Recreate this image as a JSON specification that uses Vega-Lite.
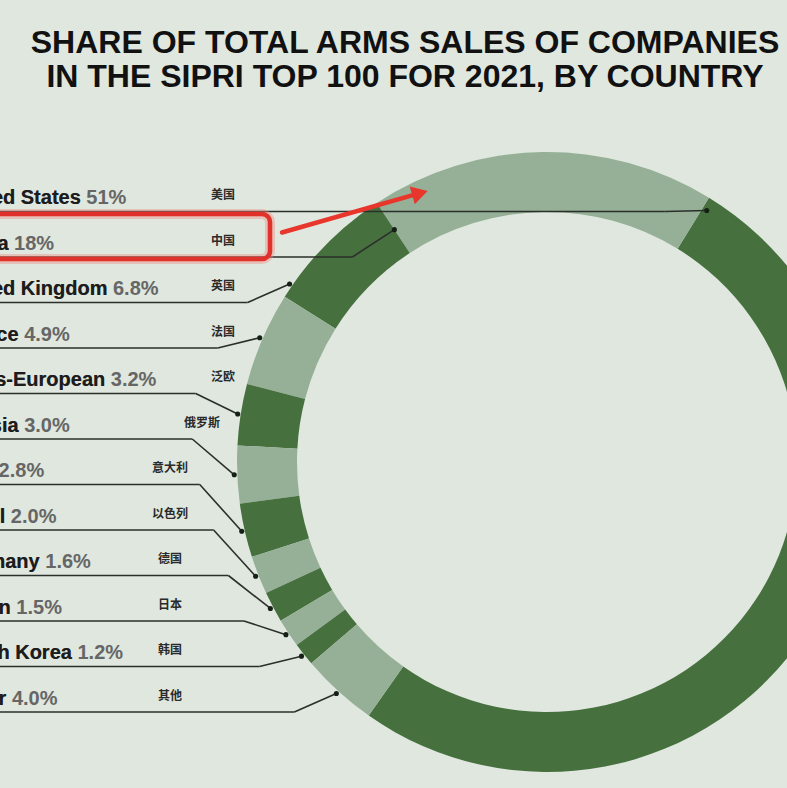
{
  "$schema": "https://vega.github.io/schema/vega-lite/v6.json",
  "width": 480,
  "height": 652,
  "autosize": {"type": "none"},
  "padding": {"top": 136, "left": 307, "right": 0, "bottom": 0},
  "background": "#dfe7de",
  "config": {"view": {"stroke": null}},
  "title": {
    "text": ["SHARE OF TOTAL ARMS SALES OF COMPANIES", "IN THE SIPRI TOP 100 FOR 2021, BY COUNTRY"],
    "font": "Liberation Sans",
    "fontSize": 32,
    "fontWeight": "bold",
    "lineHeight": 34,
    "color": "#111111",
    "anchor": "middle",
    "frame": "group",
    "dx": -142,
    "offset": 42
  },
  "data": {
    "values": [
      {"country": "United States", "zh": "美国", "share": 51, "rank": 0},
      {"country": "China", "zh": "中国", "share": 18, "rank": 1},
      {"country": "United Kingdom", "zh": "英国", "share": 6.8, "rank": 2},
      {"country": "France", "zh": "法国", "share": 4.9, "rank": 3},
      {"country": "Trans-European", "zh": "泛欧", "share": 3.2, "rank": 4},
      {"country": "Russia", "zh": "俄罗斯", "share": 3.0, "rank": 5},
      {"country": "Italy", "zh": "意大利", "share": 2.8, "rank": 6},
      {"country": "Israel", "zh": "以色列", "share": 2.0, "rank": 7},
      {"country": "Germany", "zh": "德国", "share": 1.6, "rank": 8},
      {"country": "Japan", "zh": "日本", "share": 1.5, "rank": 9},
      {"country": "South Korea", "zh": "韩国", "share": 1.2, "rank": 10},
      {"country": "Other", "zh": "其他", "share": 4.0, "rank": 11}
    ]
  },
  "transform": [
    {"calculate": "datum.rank == 0 ? 0 : 12 - datum.rank", "as": "cw"},
    {"window": [{"op": "sum", "field": "share", "as": "cum"}], "sort": [{"field": "cw", "order": "ascending"}]},
    {"calculate": "31.5 + 3.6 * (datum.cum - datum.share)", "as": "a0"},
    {"calculate": "datum.rank % 2 == 0 ? 'dark' : 'light'", "as": "tone"},
    {"calculate": "datum.rank == 0 ? 0.005 : (datum.rank == 1 ? 0 : (datum.rank == 2 ? 0.1 : 0.5))", "as": "frac"},
    {"calculate": "datum.rank == 0 ? 298 : (datum.rank == 1 ? 278 : 313)", "as": "rr"},
    {"calculate": "(datum.a0 + datum.frac * 3.6 * datum.share) * PI / 180", "as": "ang"},
    {"calculate": "547 + datum.rr * sin(datum.ang)", "as": "px"},
    {"calculate": "462 - datum.rr * cos(datum.ang)", "as": "py"},
    {"calculate": "204 + 45.5 * datum.rank", "as": "base"},
    {"calculate": "datum.base + 7.5", "as": "ly"},
    {"calculate": "datum.px - 42", "as": "ex"},
    {"calculate": "0 - 5", "as": "lx"},
    {"calculate": "0 - 47", "as": "tx0"},
    {"calculate": "datum.base - 9", "as": "zy"},
    {"calculate": "datum.rank <= 4 ? 223 : (datum.rank == 5 ? 202 : 170)", "as": "zx"},
    {"calculate": "datum.country + ' ' + format(datum.share, '.2r') + '%'", "as": "full"}
  ],
  "layer": [
    {
      "mark": {"type": "arc", "outerRadius": 310, "innerRadius": 250},
      "encoding": {
        "theta": {"field": "share", "type": "quantitative", "stack": true, "scale": {"range": [0.5498, 6.833]}},
        "order": {"field": "cw", "type": "quantitative"},
        "color": {"field": "tone", "type": "nominal", "scale": {"domain": ["dark", "light"], "range": ["#47703f", "#95b096"]}, "legend": null}
      }
    },
    {
      "mark": {"type": "rule", "color": "#2b2f2b", "strokeWidth": 1.6},
      "encoding": {
        "x": {"field": "lx", "type": "quantitative", "scale": {"domain": [307, 787], "nice": false, "zero": false}, "axis": null},
        "x2": {"field": "ex"},
        "y": {"field": "ly", "type": "quantitative", "scale": {"domain": [136, 788], "nice": false, "zero": false, "reverse": true}, "axis": null}
      }
    },
    {
      "mark": {"type": "rule", "color": "#2b2f2b", "strokeWidth": 1.6},
      "encoding": {
        "x": {"field": "ex", "type": "quantitative"},
        "x2": {"field": "px"},
        "y": {"field": "ly", "type": "quantitative"},
        "y2": {"field": "py"}
      }
    },
    {
      "mark": {"type": "circle", "size": 26, "color": "#152015", "opacity": 1},
      "encoding": {
        "x": {"field": "px", "type": "quantitative"},
        "y": {"field": "py", "type": "quantitative"}
      }
    },
    {
      "mark": {"type": "text", "align": "left", "baseline": "alphabetic", "font": "Liberation Sans", "fontSize": 20, "fontWeight": "bold", "color": "#666666"},
      "encoding": {
        "x": {"field": "tx0", "type": "quantitative"},
        "y": {"field": "base", "type": "quantitative"},
        "text": {"field": "full"}
      }
    },
    {
      "mark": {"type": "text", "align": "left", "baseline": "alphabetic", "font": "Liberation Sans", "fontSize": 20, "fontWeight": "bold", "color": "#1c1c1c"},
      "encoding": {
        "x": {"field": "tx0", "type": "quantitative"},
        "y": {"field": "base", "type": "quantitative"},
        "text": {"field": "country"}
      }
    },
    {
      "mark": {"type": "text", "align": "center", "baseline": "middle", "font": "Noto Sans CJK SC", "fontSize": 12, "fontWeight": "bold", "color": "#2a2a2a"},
      "encoding": {
        "x": {"field": "zx", "type": "quantitative"},
        "y": {"field": "zy", "type": "quantitative"},
        "text": {"field": "zh"}
      }
    },
    {
      "transform": [
        {"filter": "datum.rank == 1"},
        {"calculate": "0 - 10", "as": "bl"},
        {"calculate": "270", "as": "br"},
        {"calculate": "datum.base - 35.5", "as": "bt"},
        {"calculate": "datum.base + 9.5", "as": "bb"}
      ],
      "mark": {"type": "rect", "filled": false, "stroke": "#ef8a80", "strokeWidth": 10, "strokeOpacity": 0.4, "cornerRadius": 9},
      "encoding": {
        "x": {"field": "bl", "type": "quantitative"},
        "x2": {"field": "br"},
        "y": {"field": "bt", "type": "quantitative"},
        "y2": {"field": "bb"}
      }
    },
    {
      "transform": [
        {"filter": "datum.rank == 1"},
        {"calculate": "0 - 10", "as": "bl"},
        {"calculate": "270", "as": "br"},
        {"calculate": "datum.base - 35.5", "as": "bt"},
        {"calculate": "datum.base + 9.5", "as": "bb"}
      ],
      "mark": {"type": "rect", "filled": false, "stroke": "#e0322a", "strokeWidth": 4.5, "cornerRadius": 8},
      "encoding": {
        "x": {"field": "bl", "type": "quantitative"},
        "x2": {"field": "br"},
        "y": {"field": "bt", "type": "quantitative"},
        "y2": {"field": "bb"}
      }
    },
    {
      "transform": [
        {"filter": "datum.rank == 1"},
        {"calculate": "(datum.a0 + 0.15 * 3.6 * datum.share) * PI / 180", "as": "ta"},
        {"calculate": "282", "as": "ax"},
        {"calculate": "datum.base - 17", "as": "ay"},
        {"calculate": "547 + 296 * sin(datum.ta) - 9 * 0.962", "as": "hx"},
        {"calculate": "462 - 296 * cos(datum.ta) + 9 * 0.274", "as": "hy"}
      ],
      "mark": {"type": "rule", "color": "#e8362d", "strokeWidth": 4.5, "strokeCap": "round"},
      "encoding": {
        "x": {"field": "ax", "type": "quantitative"},
        "x2": {"field": "hx"},
        "y": {"field": "ay", "type": "quantitative"},
        "y2": {"field": "hy"}
      }
    },
    {
      "transform": [
        {"filter": "datum.rank == 1"},
        {"calculate": "(datum.a0 + 0.15 * 3.6 * datum.share) * PI / 180", "as": "ta"},
        {"calculate": "547 + 296 * sin(datum.ta) - 9 * 0.962", "as": "hx"},
        {"calculate": "462 - 296 * cos(datum.ta) + 9 * 0.274", "as": "hy"}
      ],
      "mark": {"type": "point", "shape": "triangle-right", "filled": true, "size": 340, "angle": -16, "color": "#e8362d", "opacity": 1},
      "encoding": {
        "x": {"field": "hx", "type": "quantitative"},
        "y": {"field": "hy", "type": "quantitative"}
      }
    }
  ]
}
